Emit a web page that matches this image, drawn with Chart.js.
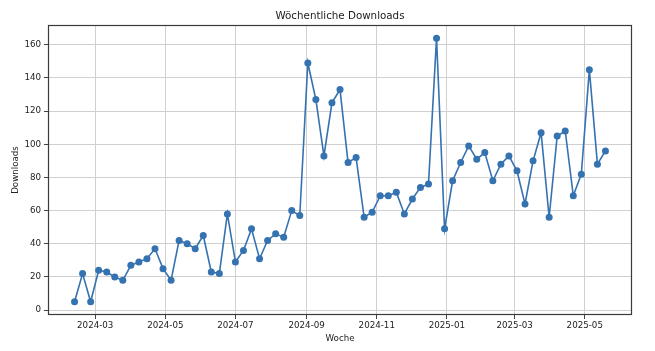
<!DOCTYPE html>
<html lang="de">
<head>
    <meta charset="UTF-8">
    <title>Wöchentliche Downloads</title>
    <script src="https://cdn.jsdelivr.net/npm/chart.js"></script>
    <style>
        html, body { margin: 0; padding: 0; background: #fff; }
        #wrap { width: 655px; height: 351px; }
    </style>
</head>
<body>
    <div id="wrap"><canvas id="chartDownloads" width="655" height="351"></canvas></div>

<script>
// Wochen (Montag) ab 2024-02-12
const ersteWoche = '2024-02-12';
const anzahlWochen = 67;

// Downloads pro Woche
const downloads = [
    5, 22, 5, 24, 23, 20, 18, 27, 29, 31, 37, 25, 18, 42, 40, 37, 45, 23, 22, 58,
    29, 36, 49, 31, 42, 46, 44, 60, 57, 149, 127, 93, 125, 133, 89, 92, 56, 59, 69, 69,
    71, 58, 67, 74, 76, 164, 49, 78, 89, 99, 91, 95, 78, 88, 93, 84, 64, 90, 107, 56,
    105, 108, 69, 82, 145, 88, 96
];

// Achsenbeschriftungen
const xTickLabels = ['2024-03', '2024-05', '2024-07', '2024-09', '2024-11', '2025-01', '2025-03', '2025-05'];
const yTicks = [0, 20, 40, 60, 80, 100, 120, 140, 160];

const TAG = 86400000;
const start = Date.parse(ersteWoche + 'T00:00:00Z');
const wochen = [];
for (let i = 0; i < anzahlWochen; i++) wochen.push(start + i * 7 * TAG);

const punkte = wochen.map((t, i) => ({ x: t, y: downloads[i] }));
const xTickWerte = xTickLabels.map(s => Date.parse(s + '-01T00:00:00Z'));

// matplotlib-artige Ränder (5%)
const spanX = wochen[wochen.length - 1] - wochen[0];
const xMin = wochen[0] - 0.05 * spanX;
const xMax = wochen[wochen.length - 1] + 0.05 * spanX;
const yLo = Math.min(...downloads), yHi = Math.max(...downloads);
const yMin = yLo - 0.05 * (yHi - yLo);
const yMax = yHi + 0.05 * (yHi - yLo);

// Rahmen um die Zeichenfläche
const rahmen = {
    id: 'rahmen',
    afterDraw(chart) {
        const a = chart.chartArea, ctx = chart.ctx;
        ctx.save();
        ctx.strokeStyle = '#3a3a3a';
        ctx.lineWidth = 1.2;
        ctx.strokeRect(Math.round(a.left) + 0.5, Math.round(a.top) + 0.5,
            Math.round(a.right - a.left) - 1, Math.round(a.bottom - a.top) - 1);
        ctx.restore();
    }
};

const schrift = "'DejaVu Sans', sans-serif";

const config = {
    type: 'line',
    data: {
        datasets: [{
            label: 'Downloads',
            data: punkte,
            borderColor: '#3572b0',
            backgroundColor: '#3572b0',
            borderWidth: 1.6,
            pointRadius: 3.5,
            pointBorderWidth: 0,
            tension: 0,
            fill: false
        }]
    },
    options: {
        responsive: false,
        maintainAspectRatio: false,
        animation: false,
        layout: { padding: { left: 0, right: 23, top: 0, bottom: 0 } },
        plugins: {
            legend: { display: false },
            tooltip: { enabled: false },
            title: {
                display: true,
                fullSize: false,
                text: 'Wöchentliche Downloads',
                color: '#1a1a1a',
                font: { family: schrift, size: 10.3, weight: 'normal' },
                padding: { top: 10, bottom: 2.6 }
            }
        },
        scales: {
            x: {
                type: 'linear',
                min: xMin,
                max: xMax,
                afterBuildTicks: s => { s.ticks = xTickWerte.map(v => ({ value: v })); },
                afterFit: s => { s.height = 36; },
                ticks: {
                    color: '#222',
                    font: { family: schrift, size: 8.7 },
                    padding: 1.5,
                    maxRotation: 0,
                    autoSkip: false,
                    callback: v => xTickLabels[xTickWerte.indexOf(v)]
                },
                grid: { color: '#d0d0d0', tickColor: '#444', tickLength: 4, lineWidth: 1 },
                border: { display: false },
                title: {
                    display: true,
                    text: 'Woche',
                    color: '#222',
                    font: { family: schrift, size: 8.7 },
                    padding: { top: 0, bottom: 7.5 }
                }
            },
            y: {
                min: yMin,
                max: yMax,
                afterBuildTicks: s => { s.ticks = yTicks.map(v => ({ value: v })); },
                afterFit: s => { s.width = 48; },
                ticks: {
                    color: '#222',
                    font: { family: schrift, size: 8.7 },
                    padding: 3
                },
                grid: { color: '#d0d0d0', tickColor: '#444', tickLength: 4, lineWidth: 1 },
                border: { display: false },
                title: {
                    display: true,
                    text: 'Downloads',
                    color: '#222',
                    font: { family: schrift, size: 8.7 },
                    padding: { top: 10.8, bottom: 0 }
                }
            }
        }
    },
    plugins: [rahmen]
};

const chartDownloads = new Chart(document.getElementById('chartDownloads'), config);
</script>
</body>
</html>
